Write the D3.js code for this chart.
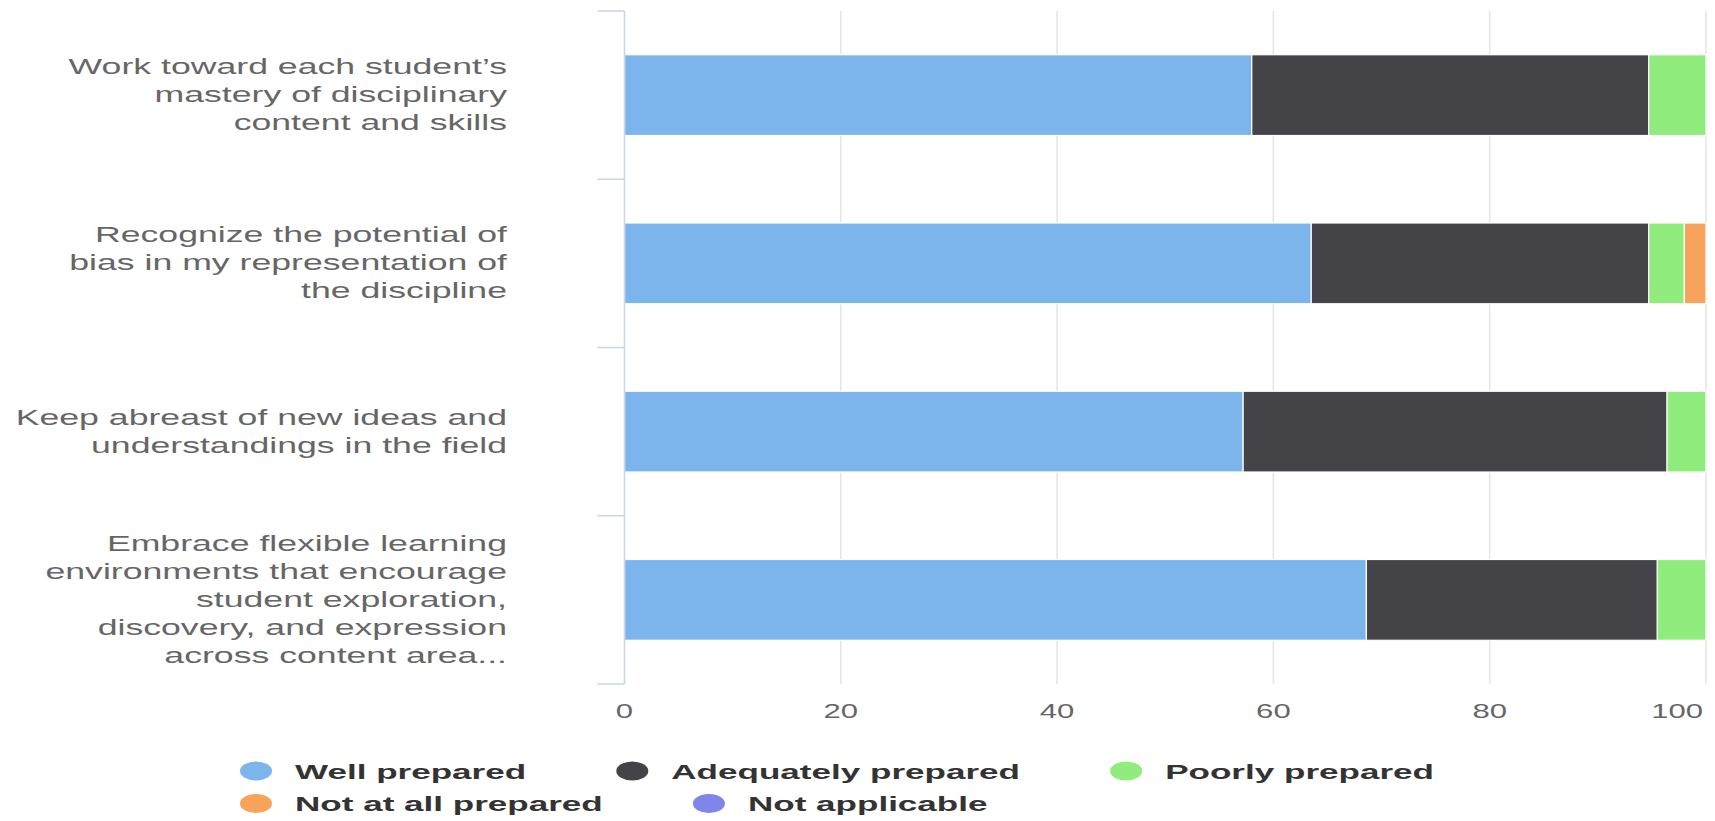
<!DOCTYPE html>
<html>
<head>
<meta charset="utf-8">
<script src="https://cdn.jsdelivr.net/npm/d3@7"></script>
<style>
  html, body { margin: 0; padding: 0; background: #ffffff; }
  svg { display: block; font-family: "Liberation Sans", Arial, Helvetica, sans-serif; }
</style>
</head>
<body>
<svg id="chart" width="1715" height="821"></svg>
<script>
// ---- data ----
const categories = [
  ["Work toward each student\u2019s", "mastery of disciplinary", "content and skills"],
  ["Recognize the potential of", "bias in my representation of", "the discipline"],
  ["Keep abreast of new ideas and", "understandings in the field"],
  ["Embrace flexible learning", "environments that encourage", "student exploration,", "discovery, and expression", "across content area..."]
];
const seriesNames = ["Well prepared", "Adequately prepared", "Poorly prepared", "Not at all prepared", "Not applicable"];
const seriesColors = ["#7cb5ec", "#434348", "#90ed7d", "#f7a35c", "#8085e9"];
const wellPrepared       = [58.0, 63.5, 57.2, 68.6];
const adequatelyPrepared = [36.7, 31.2, 39.2, 26.9];
const poorlyPrepared     = [5.3, 3.3, 3.6, 4.5];
const notAtAllPrepared   = [0, 2.0, 0, 0];
const notApplicable      = [0, 0, 0, 0];
const xTicks = [0, 20, 40, 60, 80, 100];

const seriesValues = [wellPrepared, adequatelyPrepared, poorlyPrepared, notAtAllPrepared, notApplicable];

// ---- layout ----
const svg = d3.select("#chart");
const plot = { left: 624.5, right: 1706, top: 11, bottom: 684 };
const catSX = 1.62, tickSX = 1.48, legSX = 1.67;

const x = d3.scaleLinear().domain([0, 100]).range([plot.left, plot.right]);
const catIdx = categories.map((d, i) => i);
const y = d3.scaleBand().domain(catIdx).range([plot.top, plot.bottom]).padding(0);
const barH = y.bandwidth() * 0.48;

// gridlines
svg.append("g").selectAll("line").data(xTicks.filter(t => t > 0)).join("line")
  .attr("x1", d => x(d)).attr("x2", d => x(d))
  .attr("y1", plot.top).attr("y2", plot.bottom)
  .attr("stroke", "#e6e6e6").attr("stroke-width", 1.6);

// stacked bars
const stackData = catIdx.map(i => {
  const o = { i };
  seriesNames.forEach((s, k) => o[s] = seriesValues[k][i]);
  return o;
});
const stacked = d3.stack().keys(seriesNames)(stackData);
const gBars = svg.append("g");
stacked.forEach((layer, k) => {
  gBars.append("g").attr("fill", seriesColors[k])
    .selectAll("rect").data(layer.filter(d => d[1] - d[0] > 0)).join("rect")
    .attr("x", d => x(d[0]))
    .attr("width", d => x(d[1]) - x(d[0]))
    .attr("y", d => y(d.data.i) + (y.bandwidth() - barH) / 2)
    .attr("height", barH)
    .attr("stroke", "#ffffff").attr("stroke-width", 1.2);
});

// y axis line and ticks
const axisColor = "#ccd6eb";
svg.append("line")
  .attr("x1", plot.left).attr("x2", plot.left)
  .attr("y1", plot.top).attr("y2", plot.bottom)
  .attr("stroke", axisColor).attr("stroke-width", 1.6);
const bounds = catIdx.map(i => y(i)).concat([y(catIdx[catIdx.length - 1]) + y.bandwidth()]);
svg.append("g").selectAll("line").data(bounds).join("line")
  .attr("x1", plot.left - 27).attr("x2", plot.left)
  .attr("y1", d => d).attr("y2", d => d)
  .attr("stroke", axisColor).attr("stroke-width", 1.6);

// category labels
const lineH = 28;
categories.forEach((lines, i) => {
  const cy = y(i) + y.bandwidth() / 2;
  const first = cy - (lines.length - 1) / 2 * lineH + 7;
  const g = svg.append("g").attr("transform", `translate(${plot.left - 117.5},0)`);
  lines.forEach((t, j) => {
    g.append("text")
      .attr("transform", `translate(0,${first + j * lineH}) scale(${catSX},1)`)
      .attr("text-anchor", "end")
      .attr("font-size", 22)
      .attr("fill", "#666666")
      .text(t);
  });
});

// x tick labels
const tickG = svg.append("g");
xTicks.forEach(t => {
  const txt = tickG.append("text")
    .attr("font-size", 21).attr("fill", "#666666")
    .attr("text-anchor", "middle")
    .attr("transform", `translate(${x(t)},717.5) scale(${tickSX},1)`)
    .text(t);
  const w = txt.node().getComputedTextLength() * tickSX;
  if (x(t) + w / 2 > plot.right - 3) {
    txt.attr("transform", `translate(${plot.right - 3 - w / 2},717.5) scale(${tickSX},1)`);
  }
});

// legend
const legend = svg.append("g");
const legStartX = 240, legRows = [771, 803.5], legMaxRight = 1480;
let lx = legStartX, row = 0;
seriesNames.forEach((name, k) => {
  const item = legend.append("g");
  const txt = item.append("text")
    .attr("font-size", 21).attr("font-weight", "bold").attr("fill", "#333333")
    .text(name);
  const tw = txt.node().getComputedTextLength() * legSX;
  const itemW = 55 + tw;
  if (lx + itemW > legMaxRight && lx > legStartX) { row++; lx = legStartX; }
  const cy = legRows[row];
  item.append("ellipse")
    .attr("cx", lx + 16).attr("cy", cy).attr("rx", 16).attr("ry", 9.5)
    .attr("fill", seriesColors[k]);
  txt.attr("transform", `translate(${lx + 55},${cy + 7.5}) scale(${legSX},1)`);
  lx += itemW + 90;
});
</script>
</body>
</html>
